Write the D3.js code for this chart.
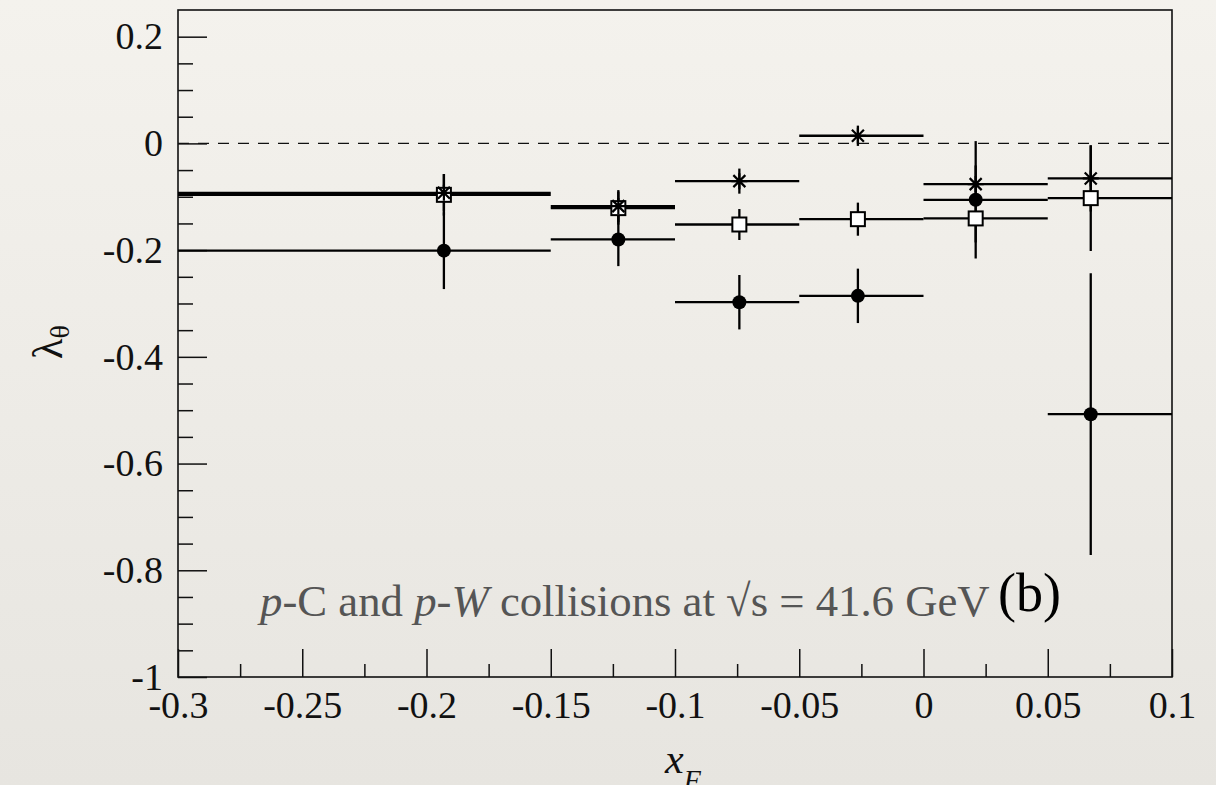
<!DOCTYPE html>
<html>

<head>
  <title>lambda theta vs xF</title>
</head>

<body>

  <svg id="svg" width="1216" height="785"></svg>

  <script src="https://d3js.org/d3.v7.min.js"></script>
  <script>
    // xF bins and the mean xF of each bin
    const binLo = [-0.3, -0.15, -0.1, -0.05, 0, 0.05]
    const binHi = [-0.15, -0.1, -0.05, 0, 0.05, 0.1]
    const xMean = [-0.193, -0.1228, -0.0741, -0.0264, 0.021, 0.0673]

    // full circles
    const circleVal = [-0.201, -0.18, -0.2976, -0.2857, -0.1057, -0.5075]
    const circleErr = [0.072, 0.05, 0.051, 0.051, 0.11, 0.264]
    // open squares
    const squareVal = [-0.0964, -0.1213, -0.152, -0.142, -0.1406, -0.1026]
    const squareErr = [0.039, 0.031, 0.029, 0.031, 0.045, 0.099]
    // asterisks
    const starVal = [-0.0926, -0.1175, -0.0707, 0.0143, -0.0763, -0.0657]
    const starErr = [0.035, 0.03, 0.0235, 0.019, 0.035, 0.062]

    const yTicks = [-1, -0.8, -0.6, -0.4, -0.2, 0, 0.2]
    const yTickLabels = ['-1', '-0.8', '-0.6', '-0.4', '-0.2', '0', '0.2']
    const xTicks = [-0.3, -0.25, -0.2, -0.15, -0.1, -0.05, 0, 0.05, 0.1]
    const xTickLabels = ['-0.3', '-0.25', '-0.2', '-0.15', '-0.1', '-0.05', '0', '0.05', '0.1']

    const plotLeft = 178, plotRight = 1172, plotTop = 10, plotBottom = 677
    const font = 'Liberation Serif, Times New Roman, serif'

    const svg = d3.select('#svg')

    // paper background
    const grad = svg.append('defs').append('linearGradient')
      .attr('id', 'paper').attr('x1', 0).attr('y1', 0).attr('x2', 0).attr('y2', 1)
    grad.append('stop').attr('offset', '0%').attr('stop-color', '#f4f2ed')
    grad.append('stop').attr('offset', '100%').attr('stop-color', '#e7e5e0')
    svg.append('rect').attr('width', 1216).attr('height', 785).attr('fill', 'url(#paper)')

    const xscale = d3.scaleLinear().domain([-0.3, 0.1]).range([plotLeft, plotRight])
    const yscale = d3.scaleLinear().domain([-1, 0.25]).range([plotBottom, plotTop])

    // minor ticks
    const yMinor = d3.range(-1, 0.2001, 0.05).filter(v => !yTicks.some(t => Math.abs(t - v) < 1e-6))
    const xMinor = d3.range(-0.275, 0.1, 0.05)

    svg.append('g')
      .attr('transform', `translate(${plotLeft},0)`)
      .call(d3.axisLeft(yscale).tickValues(yMinor).tickSize(-15).tickFormat(''))
      .call(g => g.select('.domain').remove())

    svg.append('g')
      .attr('transform', `translate(0,${plotBottom})`)
      .call(d3.axisBottom(xscale).tickValues(xMinor).tickSize(-13).tickFormat(''))
      .call(g => g.select('.domain').remove())

    // major ticks with labels
    const yAxis = svg.append('g')
      .attr('transform', `translate(${plotLeft},0)`)
      .call(d3.axisLeft(yscale).tickValues(yTicks).tickSize(-29).tickPadding(15)
        .tickFormat((d, i) => yTickLabels[i]))
    yAxis.select('.domain').remove()

    const xAxis = svg.append('g')
      .attr('transform', `translate(0,${plotBottom})`)
      .call(d3.axisBottom(xscale).tickValues(xTicks).tickSize(-28).tickPadding(14)
        .tickFormat((d, i) => xTickLabels[i]))
    xAxis.select('.domain').remove()

    svg.selectAll('.tick line').attr('stroke', '#111').attr('stroke-width', 1.5)
    svg.selectAll('.tick text')
      .attr('font-family', font).attr('font-size', 38).attr('fill', '#111')

    // frame
    svg.append('rect')
      .attr('x', plotLeft).attr('y', plotTop)
      .attr('width', plotRight - plotLeft).attr('height', plotBottom - plotTop)
      .attr('fill', 'none').attr('stroke', '#111').attr('stroke-width', 1.6)

    // zero line
    svg.append('line')
      .attr('x1', xscale(-0.3)).attr('x2', xscale(0.1))
      .attr('y1', yscale(0)).attr('y2', yscale(0))
      .attr('stroke', '#111').attr('stroke-width', 1.3)
      .attr('stroke-dasharray', '11,9')

    function series(vals, errs) {
      return vals.map((v, i) => ({ x: xMean[i], lo: binLo[i], hi: binHi[i], v: v, e: errs[i] }))
    }

    const circles = series(circleVal, circleErr)
    const squares = series(squareVal, squareErr)
    const stars = series(starVal, starErr)

    function drawErrors(data) {
      const g = svg.append('g').attr('stroke', '#000').attr('stroke-width', 2.3)
      g.selectAll('.h').data(data).join('line').attr('class', 'h')
        .attr('x1', d => xscale(d.lo)).attr('x2', d => xscale(d.hi))
        .attr('y1', d => yscale(d.v)).attr('y2', d => yscale(d.v))
      g.selectAll('.v').data(data).join('line').attr('class', 'v')
        .attr('x1', d => xscale(d.x)).attr('x2', d => xscale(d.x))
        .attr('y1', d => yscale(d.v - d.e)).attr('y2', d => yscale(d.v + d.e))
    }

    drawErrors(circles)
    drawErrors(squares)
    drawErrors(stars)

    // markers
    svg.append('g').selectAll('circle').data(circles).join('circle')
      .attr('cx', d => xscale(d.x)).attr('cy', d => yscale(d.v))
      .attr('r', 7).attr('fill', '#000')

    svg.append('g').selectAll('rect').data(squares).join('rect')
      .attr('x', d => xscale(d.x) - 7).attr('y', d => yscale(d.v) - 7)
      .attr('width', 14).attr('height', 14)
      .attr('fill', '#fff').attr('stroke', '#000').attr('stroke-width', 2)

    const starPath = 'M-8,0L8,0M0,-8L0,8M-6,-6L6,6M-6,6L6,-6'
    svg.append('g').selectAll('path').data(stars).join('path')
      .attr('transform', d => `translate(${xscale(d.x)},${yscale(d.v)})`)
      .attr('d', starPath)
      .attr('stroke', '#000').attr('stroke-width', 2.2).attr('fill', 'none')

    // annotation
    const note = svg.append('text')
      .attr('x', 260).attr('y', 616)
      .attr('font-family', font).attr('font-size', 40).attr('fill', '#555')
    note.append('tspan').attr('font-style', 'italic').text('p')
    note.append('tspan').text('-C and ')
    note.append('tspan').attr('font-style', 'italic').text('p')
    note.append('tspan').text('-')
    note.append('tspan').attr('font-style', 'italic').text('W')
    note.append('tspan').text(' collisions at √s = 41.6 GeV')
    const w = note.node().getComputedTextLength()
    note.attr('font-size', 40 * 730 / w)

    svg.append('text')
      .attr('x', 998).attr('y', 611)
      .attr('font-family', font).attr('font-size', 54).attr('fill', '#000')
      .text('(b)')

    // axis titles
    const ylab = svg.append('text')
      .attr('transform', 'translate(62,342) rotate(-90)')
      .attr('text-anchor', 'middle')
      .attr('font-family', font).attr('font-size', 42).attr('fill', '#111')
    ylab.append('tspan').text('λ')
    ylab.append('tspan').attr('font-size', 28).attr('dy', 7).text('θ')

    const xlab = svg.append('text')
      .attr('x', 665).attr('y', 773)
      .attr('font-family', font).attr('font-size', 42).attr('font-style', 'italic').attr('fill', '#111')
    xlab.append('tspan').text('x')
    xlab.append('tspan').attr('font-size', 28).attr('dy', 16).text('F')
  </script>
</body>

<style>
  body,
  html {
    margin: 0;
    padding: 0;
    overflow: hidden;
  }
</style>

</html>
